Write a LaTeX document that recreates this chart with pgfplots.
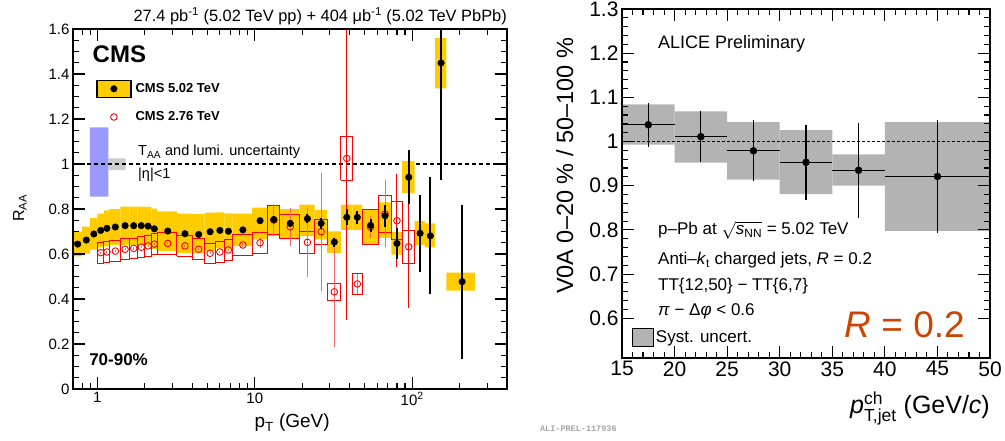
\documentclass[border=0pt]{standalone}
\usepackage{amsmath}
\usepackage{fontspec}
\setmainfont{Liberation Sans}
\newfontfamily\monof{Liberation Mono}
\usepackage{pgfplots}
\usepackage{pgfplotstable}
\pgfplotsset{compat=1.18}
\definecolor{cmsyellow}{HTML}{FFCC00}
\definecolor{taablue}{HTML}{9999FF}
\definecolor{lumigray}{HTML}{CCCCCC}
\definecolor{systgray}{HTML}{B3B3B3}
\definecolor{rorange}{HTML}{CC4400}
\newcommand{\fb}[5]{\addplot[forget plot, draw=none, fill=#5] coordinates {(#1,#3) (#2,#3) (#2,#4) (#1,#4) (#1,#3)};}
\newcommand{\rb}[4]{\addplot[forget plot, draw=red, line width=0.9pt, fill=none] coordinates {(#1,#3) (#2,#3) (#2,#4) (#1,#4) (#1,#3)};}
\pgfplotstableread{
x y ey
0.75 0.644 0.006
0.85 0.662 0.006
0.95 0.689 0.006
1.05 0.705 0.006
1.15 0.714 0.006
1.3 0.720 0.006
1.5 0.726 0.006
1.7 0.726 0.006
1.9 0.726 0.006
2.1 0.724 0.006
2.3 0.712 0.006
2.8 0.702 0.006
3.6 0.690 0.006
4.4 0.687 0.006
5.2 0.699 0.006
6.0 0.705 0.006
6.8 0.701 0.006
8.4 0.707 0.008
10.8 0.748 0.012
13.2 0.753 0.015
16.8 0.736 0.015
21.6 0.757 0.02
26.4 0.736 0.025
32.0 0.653 0.02
38.4 0.763 0.035
44.8 0.763 0.03
54.4 0.727 0.03
67.2 0.770 0.05
80.0 0.647 0.07
95.0 0.941 0.12
112.2 0.692 0.17
130.4 0.681 0.26
152.5 1.449 0.52
207.5 0.477 0.343
}\cmsnew
\pgfplotstableread{
x y ey
1.05 0.606 0.005
1.15 0.609 0.005
1.3 0.613 0.005
1.5 0.621 0.005
1.7 0.625 0.005
1.9 0.630 0.005
2.1 0.636 0.005
2.3 0.644 0.005
2.8 0.647 0.005
3.6 0.636 0.005
4.4 0.621 0.005
5.2 0.603 0.005
6.0 0.609 0.005
6.8 0.618 0.005
8.4 0.640 0.008
10.8 0.650 0.025
13.2 0.751 0.07
16.8 0.721 0.085
21.6 0.652 0.155
26.4 0.699 0.263
32.0 0.432 0.244
44.8 0.467 0.045
54.4 0.719 0.05
67.2 0.778 0.149
}\cmsoldA
\pgfplotstableread{
x y ey
38.4 1.025 0.718
80.0 0.748 0.207
95.0 0.632 0.273
}\cmsoldB
\pgfplotstableread{
x y ex ey
17.5 1.038 2.5 0.050
22.5 1.011 2.5 0.058
27.5 0.979 2.5 0.069
32.5 0.953 2.5 0.085
37.5 0.935 2.5 0.107
45.0 0.921 5.0 0.127
}\alice
\pgfplotsset{rootstyle/.style={scale only axis, axis on top, clip mode=individual,
  axis line style={line width=1.6pt}, every tick/.style={black, line width=1.1pt},
  major tick length=12pt, minor tick length=6pt, tick align=inside,
  /pgf/number format/assume math mode=true}}
\begin{document}
\begin{tikzpicture}
\useasboundingbox (0,0) rectangle (1005pt,440pt);
% ---------------- left: CMS ----------------
\begin{axis}[rootstyle, at={(73pt,51pt)}, anchor=south west, width=434pt, height=360pt,
  xmode=log, xmin=0.7, xmax=400, ymin=0, ymax=1.6,
  xtick={1,10,100}, xticklabels={1,10,10\textsuperscript{2}},
  minor xtick={0.8,0.9,2,3,4,5,6,7,8,9,20,30,40,50,60,70,80,90,200,300},
  ytick={0,0.2,0.4,0.6,0.8,1,1.2,1.4,1.6}, minor y tick num=3,
  ticklabel style={font=\fontsize{15}{18}\selectfont},
  legend style={at={(rel axis cs:0.053,0.86)}, anchor=north west, draw=none, fill=none,
    inner sep=0pt, row sep=11pt, font=\bfseries\fontsize{13}{15}\selectfont,
    nodes={inner xsep=4pt}},
  legend cell align=left]
\addlegendimage{legend image code/.code={\draw[fill=cmsyellow, draw=black, line width=1.4pt] (0pt,-8.5pt) rectangle (34pt,8.5pt); \fill[black] (17pt,0pt) circle (3.3pt);}}
\addlegendentry{CMS 5.02 TeV}
\addlegendimage{legend image code/.code={\draw[red, line width=0.9pt] (17pt,0pt) circle (3.3pt); \path[draw=none, fill=none] (0pt,-8pt) rectangle (34pt,8pt);}}
\addlegendentry{CMS 2.76 TeV}
% T_AA and lumi boxes
\fb{0.897}{1.175}{0.855}{1.163}{taablue}
\fb{1.168}{1.513}{0.973}{1.025}{lumigray}
\addplot[forget plot, black, line width=1.2pt, dash pattern=on 4pt off 3pt] coordinates {(0.7,1) (400,1)};
% yellow syst boxes (5.02 TeV)
\fb{0.7}{0.8}{0.589}{0.699}{cmsyellow}
\fb{0.8}{0.9}{0.602}{0.722}{cmsyellow}
\fb{0.9}{1.0}{0.619}{0.759}{cmsyellow}
\fb{1.0}{1.1}{0.630}{0.780}{cmsyellow}
\fb{1.1}{1.2}{0.634}{0.794}{cmsyellow}
\fb{1.2}{1.4}{0.640}{0.800}{cmsyellow}
\fb{1.4}{1.6}{0.641}{0.811}{cmsyellow}
\fb{1.6}{1.8}{0.641}{0.811}{cmsyellow}
\fb{1.8}{2.0}{0.641}{0.811}{cmsyellow}
\fb{2.0}{2.2}{0.639}{0.809}{cmsyellow}
\fb{2.2}{2.4}{0.622}{0.802}{cmsyellow}
\fb{2.4}{3.2}{0.614}{0.790}{cmsyellow}
\fb{3.2}{4.0}{0.605}{0.780}{cmsyellow}
\fb{4.0}{4.8}{0.605}{0.777}{cmsyellow}
\fb{4.8}{5.6}{0.614}{0.784}{cmsyellow}
\fb{5.6}{6.4}{0.625}{0.785}{cmsyellow}
\fb{6.4}{7.2}{0.621}{0.781}{cmsyellow}
\fb{7.2}{9.6}{0.635}{0.779}{cmsyellow}
\fb{9.6}{12.0}{0.665}{0.806}{cmsyellow}
\fb{12.0}{14.4}{0.680}{0.815}{cmsyellow}
\fb{14.4}{19.2}{0.665}{0.800}{cmsyellow}
\fb{19.2}{24.0}{0.680}{0.819}{cmsyellow}
\fb{24.0}{28.8}{0.665}{0.796}{cmsyellow}
\fb{28.8}{35.2}{0.605}{0.701}{cmsyellow}
\fb{35.2}{41.6}{0.707}{0.819}{cmsyellow}
\fb{41.6}{48.0}{0.707}{0.819}{cmsyellow}
\fb{48.0}{60.8}{0.645}{0.795}{cmsyellow}
\fb{60.8}{73.6}{0.672}{0.830}{cmsyellow}
\fb{73.6}{86.4}{0.597}{0.697}{cmsyellow}
\fb{86.4}{103.6}{0.870}{1.013}{cmsyellow}
\fb{103.6}{120.8}{0.640}{0.747}{cmsyellow}
\fb{120.8}{140.0}{0.630}{0.736}{cmsyellow}
\fb{140.0}{165.0}{1.336}{1.559}{cmsyellow}
\fb{165.0}{250.0}{0.437}{0.517}{cmsyellow}
% red syst boxes (2.76 TeV)
\rb{1.0}{1.1}{0.560}{0.652}
\rb{1.1}{1.2}{0.563}{0.655}
\rb{1.2}{1.4}{0.567}{0.659}
\rb{1.4}{1.6}{0.575}{0.667}
\rb{1.6}{1.8}{0.579}{0.671}
\rb{1.8}{2.0}{0.584}{0.676}
\rb{2.0}{2.2}{0.590}{0.682}
\rb{2.2}{2.4}{0.598}{0.690}
\rb{2.4}{3.2}{0.599}{0.695}
\rb{3.2}{4.0}{0.590}{0.682}
\rb{4.0}{4.8}{0.575}{0.667}
\rb{4.8}{5.6}{0.557}{0.649}
\rb{5.6}{6.4}{0.563}{0.655}
\rb{6.4}{7.2}{0.572}{0.664}
\rb{7.2}{9.6}{0.593}{0.687}
\rb{9.6}{12.0}{0.602}{0.698}
\rb{12.0}{14.4}{0.688}{0.814}
\rb{14.4}{19.2}{0.667}{0.775}
\rb{19.2}{24.0}{0.602}{0.702}
\rb{24.0}{28.8}{0.643}{0.755}
\rb{28.8}{35.2}{0.395}{0.469}
\rb{35.2}{41.6}{0.929}{1.121}
\rb{41.6}{48.0}{0.419}{0.515}
\rb{48.0}{60.8}{0.641}{0.797}
\rb{60.8}{73.6}{0.697}{0.859}
\rb{73.6}{86.4}{0.663}{0.833}
\rb{86.4}{103.6}{0.558}{0.706}
% 2.76 TeV points
\addplot[forget plot, only marks, mark=o, mark size=3.3pt, red, line width=0.9pt,
  error bars/.cd, y dir=both, y explicit, error mark=none,
  error bar style={line width=1pt, red!60!white}] table[x=x, y=y, y error=ey] {\cmsoldA};
\addplot[forget plot, only marks, mark=o, mark size=3.3pt, red, line width=0.9pt,
  error bars/.cd, y dir=both, y explicit, error mark=none,
  error bar style={line width=1pt, red}] table[x=x, y=y, y error=ey] {\cmsoldB};
% 5.02 TeV points
\addplot[forget plot, only marks, mark=*, mark size=3.3pt, black,
  error bars/.cd, y dir=both, y explicit, error mark=none,
  error bar style={line width=2pt, black}] table[x=x, y=y, y error=ey] {\cmsnew};
% texts
\node[anchor=base east, font=\fontsize{16.4}{19}\selectfont, inner sep=0pt] at (rel axis cs:1,1.0203)
  {27.4 pb\textsuperscript{-1} (5.02 TeV pp) + 404 μb\textsuperscript{-1} (5.02 TeV PbPb)};
\node[anchor=west, font=\bfseries\fontsize{24}{28}\selectfont, inner sep=0pt] at (rel axis cs:0.045,0.93) {CMS};
\node[anchor=west, font=\fontsize{14.5}{17}\selectfont, inner sep=0pt] at (rel axis cs:0.1498,0.658) {T\textsubscript{AA} and lumi. uncertainty};
\node[anchor=west, font=\fontsize{14.5}{17}\selectfont, inner sep=0pt] at (rel axis cs:0.1498,0.594) {|η|<1};
\node[anchor=west, font=\bfseries\fontsize{17}{20}\selectfont, inner sep=0pt] at (rel axis cs:0.037,0.0806) {70-90\%};
\node[anchor=base east, font=\fontsize{19}{22}\selectfont, inner sep=0pt] at (rel axis cs:0.592,-0.108) {p\textsubscript{T} (GeV)};
\node[anchor=base west, rotate=90, font=\fontsize{16}{19}\selectfont, inner sep=0pt] at (rel axis cs:-0.1129,0.464) {R\textsubscript{AA}};
\end{axis}
% ---------------- right: ALICE ----------------
\begin{axis}[rootstyle, at={(622pt,82pt)}, anchor=south west, width=368pt, height=349pt,
  xmin=15, xmax=50, ymin=0.51, ymax=1.3,
  xtick={15,20,25,30,35,40,45,50}, ytick={0.6,0.7,0.8,0.9,1,1.1,1.2,1.3},
  minor x tick num=4, minor y tick num=4,
  ticklabel style={font=\fontsize{21}{24}\selectfont},
  legend style={at={(rel axis cs:0.027,0.086)}, anchor=north west, draw=none, fill=none,
    inner sep=0pt, font=\fontsize{17}{20}\selectfont},
  legend cell align=left]
\addlegendimage{legend image code/.code={\draw[fill=systgray, draw=black, line width=0.8pt] (0pt,-9pt) rectangle (21pt,9pt);}}
\addlegendentry{Syst. uncert.}
\fb{15}{20}{0.993}{1.084}{systgray}
\fb{20}{25}{0.952}{1.068}{systgray}
\fb{25}{30}{0.914}{1.044}{systgray}
\fb{30}{35}{0.881}{1.026}{systgray}
\fb{35}{40}{0.900}{0.971}{systgray}
\fb{40}{50}{0.798}{1.044}{systgray}
\addplot[forget plot, black, line width=0.7pt, dash pattern=on 3pt off 2pt] coordinates {(15,1) (50,1)};
\addplot[forget plot, only marks, mark=*, mark size=3.5pt, black,
  error bars/.cd, x dir=both, x explicit, y dir=both, y explicit, error mark=none,
  error bar style={line width=1.2pt, black}] table[x=x, y=y, x error=ex, y error=ey] {\alice};
\node[anchor=west, font=\fontsize{18}{21}\selectfont, inner sep=0pt] at (rel axis cs:0.0978,0.9) {ALICE Preliminary};
\node[anchor=west, font=\fontsize{17}{20}\selectfont, inner sep=0pt] at (rel axis cs:0.0978,0.3657) {p–Pb at $\sqrt{\textit{s}_{\text{NN}}}$ = 5.02 TeV};
\node[anchor=west, font=\fontsize{17}{20}\selectfont, inner sep=0pt] at (rel axis cs:0.0978,0.28) {Anti–\textit{k}\textsubscript{t} charged jets, \textit{R} = 0.2};
\node[anchor=west, font=\fontsize{17}{20}\selectfont, inner sep=0pt] at (rel axis cs:0.0978,0.2057) {TT\{12,50\} − TT\{6,7\}};
\node[anchor=west, font=\fontsize{17}{20}\selectfont, inner sep=0pt] at (rel axis cs:0.0978,0.134) {\textit{π} − Δ\textit{φ} < 0.6};
\node[anchor=east, font=\fontsize{37}{42}\selectfont, text=rorange, inner sep=0pt] at (rel axis cs:0.932,0.096) {\textit{R} = 0.2};
\node[anchor=base east, font=\fontsize{25}{29}\selectfont, inner sep=0pt] at (rel axis cs:1,-0.16) {$\textit{p}^{\text{ch}}_{\text{T,jet}}$ (GeV/\textit{c})};
\node[anchor=base west, rotate=90, font=\fontsize{23.5}{27}\selectfont, inner sep=0pt] at (rel axis cs:-0.133,0.183) {V0A 0–20 \% / 50–100 \%};
\node[anchor=west, font=\monof\bfseries\fontsize{8.5}{10}\selectfont, text=black!35, inner sep=0pt] at (rel axis cs:-0.223,-0.203) {ALI-PREL-117936};
\end{axis}
\end{tikzpicture}
\end{document}
